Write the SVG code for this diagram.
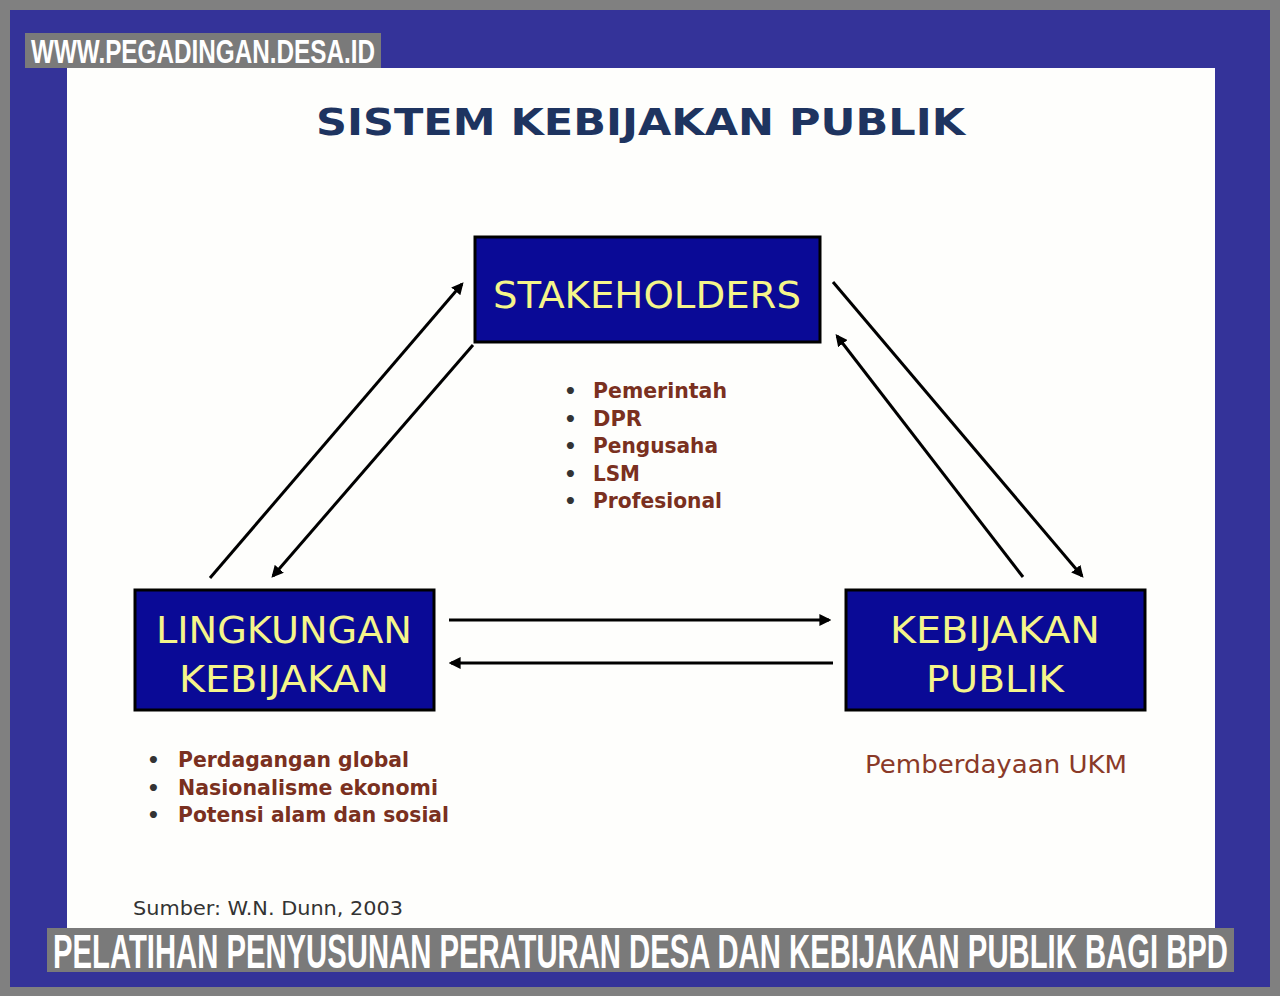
<svg xmlns="http://www.w3.org/2000/svg" width="1280" height="996" viewBox="0 0 1280 996">
<defs>
<style>
.box{fill:#0a0a96;stroke:#000;stroke-width:3}
.bt{font-family:"DejaVu Sans","Liberation Sans",sans-serif;font-size:38px;fill:#f5f58a;text-anchor:middle}
.bl{font-family:"DejaVu Sans",sans-serif;font-weight:bold;font-size:21px;fill:#7a3020}
.dot{font-family:"DejaVu Sans",sans-serif;font-weight:bold;font-size:20px;fill:#333}
.con{stroke:#000;stroke-width:3;fill:none;marker-end:url(#ah)}
.cap{font-family:"Liberation Sans",sans-serif;font-weight:bold;fill:#fff}
</style>
<marker id="ah" viewBox="0 0 10 10" refX="8" refY="5" markerWidth="4" markerHeight="4" orient="auto" markerUnits="strokeWidth">
<path d="M0,0 L10,5 L0,10 z" fill="#000"/>
</marker>
</defs>
<rect x="0" y="0" width="1280" height="996" fill="#808080"/>
<rect x="10" y="10" width="1260" height="977" fill="#343399"/>
<rect x="67" y="68" width="1148" height="872" fill="#fefefc"/>
<g id="watermark">
<rect x="25" y="33" width="356" height="35" fill="#7a7a7a"/>
<text class="cap" x="31" y="63" font-size="34" textLength="344" lengthAdjust="spacingAndGlyphs">WWW.PEGADINGAN.DESA.ID</text>
</g>
<text x="316" y="135" font-family="DejaVu Sans,sans-serif" font-weight="bold" font-size="38" fill="#1e3460" textLength="649" lengthAdjust="spacingAndGlyphs">SISTEM KEBIJAKAN PUBLIK</text>
<g id="connectors">
<line class="con" x1="210" y1="578" x2="462" y2="284"/>
<line class="con" x1="473" y1="345" x2="273" y2="576"/>
<line class="con" x1="833" y1="282" x2="1082" y2="576"/>
<line class="con" x1="1023" y1="577" x2="837" y2="336"/>
<line class="con" x1="449" y1="620" x2="829" y2="620"/>
<line class="con" x1="833" y1="663" x2="451" y2="663"/>
</g>
<g id="stakeholders">
<rect class="box" x="475" y="237" width="345" height="105"/>
<text class="bt" x="647" y="308" textLength="308" lengthAdjust="spacingAndGlyphs">STAKEHOLDERS</text>
</g>
<g id="stakeholders-list">
<text class="dot" x="564" y="398">•</text><text class="bl" x="593" y="398" textLength="134" lengthAdjust="spacingAndGlyphs">Pemerintah</text>
<text class="dot" x="564" y="426">•</text><text class="bl" x="593" y="426" textLength="49" lengthAdjust="spacingAndGlyphs">DPR</text>
<text class="dot" x="564" y="453">•</text><text class="bl" x="593" y="453" textLength="125" lengthAdjust="spacingAndGlyphs">Pengusaha</text>
<text class="dot" x="564" y="481">•</text><text class="bl" x="593" y="481" textLength="47" lengthAdjust="spacingAndGlyphs">LSM</text>
<text class="dot" x="564" y="508">•</text><text class="bl" x="593" y="508" textLength="129" lengthAdjust="spacingAndGlyphs">Profesional</text>
</g>
<g id="lingkungan">
<rect class="box" x="135" y="590" width="299" height="120"/>
<text class="bt" x="284" y="643" textLength="256" lengthAdjust="spacingAndGlyphs">LINGKUNGAN</text>
<text class="bt" x="284" y="692" textLength="210" lengthAdjust="spacingAndGlyphs">KEBIJAKAN</text>
</g>
<g id="lingkungan-list">
<text class="dot" x="147" y="767">•</text><text class="bl" x="178" y="767" textLength="231" lengthAdjust="spacingAndGlyphs">Perdagangan global</text>
<text class="dot" x="147" y="795">•</text><text class="bl" x="178" y="795" textLength="260" lengthAdjust="spacingAndGlyphs">Nasionalisme ekonomi</text>
<text class="dot" x="147" y="822">•</text><text class="bl" x="178" y="822" textLength="271" lengthAdjust="spacingAndGlyphs">Potensi alam dan sosial</text>
</g>
<g id="kebijakan-publik">
<rect class="box" x="846" y="590" width="299" height="120"/>
<text class="bt" x="995" y="643" textLength="210" lengthAdjust="spacingAndGlyphs">KEBIJAKAN</text>
<text class="bt" x="995" y="692" textLength="138" lengthAdjust="spacingAndGlyphs">PUBLIK</text>
</g>
<text x="865" y="773" font-family="DejaVu Sans,sans-serif" font-size="24" fill="#8a3a28" textLength="262" lengthAdjust="spacingAndGlyphs">Pemberdayaan UKM</text>
<text x="133" y="915" font-family="DejaVu Sans,sans-serif" font-size="20" fill="#333" textLength="270" lengthAdjust="spacingAndGlyphs">Sumber: W.N. Dunn, 2003</text>
<g id="caption">
<rect x="47" y="928" width="1187" height="44" fill="#7a7a7a"/>
<text class="cap" x="53" y="968" font-size="48" textLength="1175" lengthAdjust="spacingAndGlyphs">PELATIHAN PENYUSUNAN PERATURAN DESA DAN KEBIJAKAN PUBLIK BAGI BPD</text>
</g>
</svg>
